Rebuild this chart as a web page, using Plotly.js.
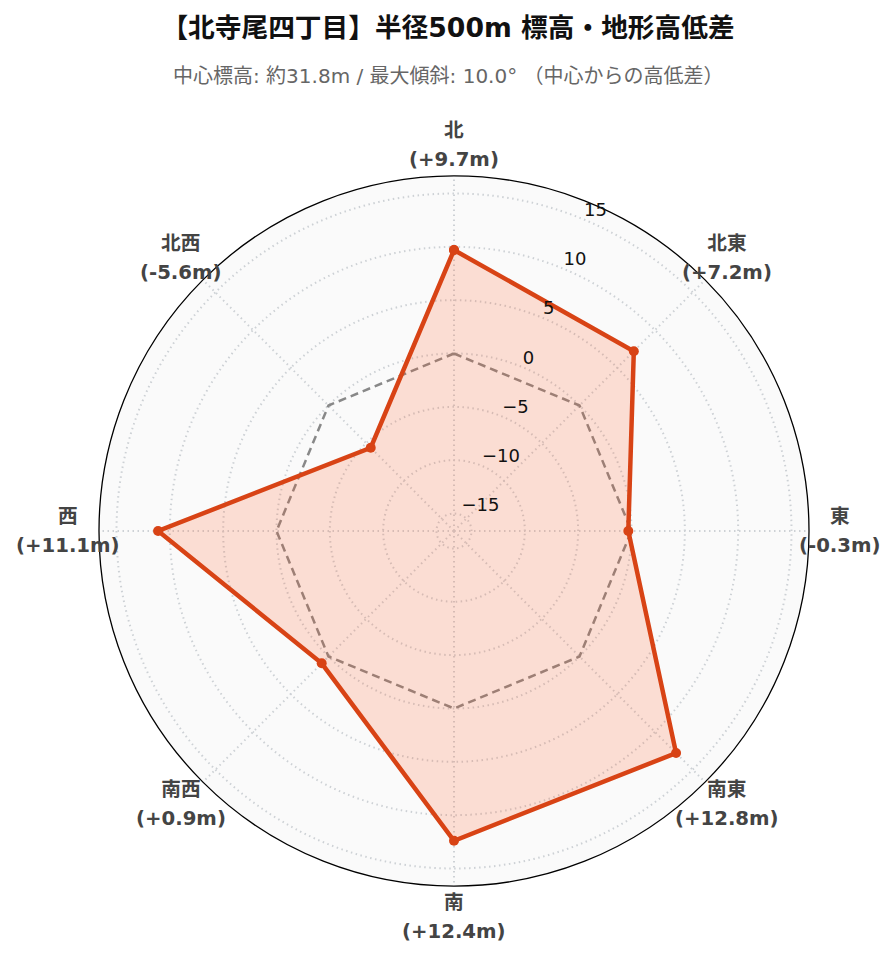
<!DOCTYPE html>
<html><head><meta charset="utf-8">
<script src="https://cdn.plot.ly/plotly-3.0.1.min.js"></script>
<style>html,body{margin:0;padding:0;background:#fff}</style>
</head><body>
<div id="chart" style="width:896px;height:962px"></div>
<script>
const directions = ["北", "北東", "東", "南東", "南", "南西", "西", "北西"];
const elevDiff = [9.7, 7.2, -0.3, 12.8, 12.4, 0.9, 11.1, -5.6];
const baseline = [0, 0, 0, 0, 0, 0, 0, 0];
const radialTicks = [-15, -10, -5, 0, 5, 10, 15];
const radialRange = [-16.64, 16.64];

const fmt = v => (v >= 0 ? "+" : "") + v.toFixed(1) + "m";
const close = a => a.concat([a[0]]);

const FONT = "DejaVu Sans, Noto Sans CJK JP, sans-serif";

// ---- layout geometry ----
const W = 896, H = 962;
const M = {l: 80, r: 80, t: 150, b: 60};
const PW = W - M.l - M.r, PH = H - M.t - M.b;
// main polar frame in pixels (left, top, size)
const frame = {x: 99, y: 176, s: 710};
const dom = (x0, y0, s) => ({
  x: [(x0 - M.l) / PW, (x0 + s - M.l) / PW],
  y: [(H - M.b - (y0 + s)) / PH, (H - M.b - y0) / PH]
});
const mainDomain = dom(frame.x, frame.y, frame.s);
// overlay polar used only for the radial tick labels, nudged up-left
const tickDomain = dom(frame.x - 8, frame.y - 16, frame.s);

// direction labels on a ring just outside the frame
const ringFactor = 1.086;
const cx = (mainDomain.x[0] + mainDomain.x[1]) / 2, cy = (mainDomain.y[0] + mainDomain.y[1]) / 2;
const rx = (mainDomain.x[1] - mainDomain.x[0]) / 2 * ringFactor;
const ry = (mainDomain.y[1] - mainDomain.y[0]) / 2 * ringFactor;
const dirAnnotations = directions.map((d, i) => {
  const a = i * 2 * Math.PI / directions.length;
  return {
    xref: "paper", yref: "paper",
    x: cx + rx * Math.sin(a), y: cy + ry * Math.cos(a),
    xanchor: "center", yanchor: "middle", align: "center",
    showarrow: false,
    text: "<span style='font-size:19.7px'><b>" + d + "</b></span><br><span style='font-size:19.7px'><b>(" + fmt(elevDiff[i]) + ")</b></span>",
    font: {family: FONT, size: 22.3, color: "#444"}
  };
});

const traces = [
  {
    type: "scatterpolar",
    r: close(baseline), theta: close(directions),
    mode: "lines",
    line: {color: "#888888", width: 2.5, dash: "8px,5px"},
    hoverinfo: "skip", showlegend: false
  },
  {
    type: "scatterpolar",
    r: close(elevDiff), theta: close(directions),
    mode: "lines+markers",
    fill: "toself",
    fillcolor: "rgba(255,87,34,0.18)",
    line: {color: "#d84315", width: 4.5},
    marker: {color: "#d84315", size: 10},
    showlegend: false
  },
  {
    type: "scatterpolar", subplot: "polar2",
    r: [], theta: [], mode: "lines",
    hoverinfo: "skip", showlegend: false
  }
];

const layout = {
  width: W, height: H,
  paper_bgcolor: "#ffffff",
  font: {family: FONT, color: "#222"},
  margin: M,
  showlegend: false,
  title: {
    text: "<b>【北寺尾四丁目】半径500m 標高・地形高低差</b>",
    x: 0.5, xanchor: "center", y: 0.971, yanchor: "middle",
    font: {family: FONT, size: 26.7, color: "#111"}
  },
  annotations: [{
    text: "中心標高: 約31.8m / 最大傾斜: 10.0° （中心からの高低差）",
    xref: "paper", yref: "paper", x: (W / 2 - M.l) / PW, y: (H - M.b - 76) / PH,
    xanchor: "center", yanchor: "middle",
    showarrow: false,
    font: {family: FONT, size: 20, color: "#666"}
  }].concat(dirAnnotations),
  polar: {
    bgcolor: "#fafafa",
    domain: mainDomain,
    angularaxis: {
      rotation: 90, direction: "clockwise",
      categoryarray: directions, categoryorder: "array",
      showticklabels: false,
      showline: true, linecolor: "#000", linewidth: 1.3,
      gridcolor: "#cdd1d5", griddash: "1.5px,3.5px", gridwidth: 1.5,
      ticks: ""
    },
    radialaxis: {
      range: radialRange, angle: 67.5,
      tickvals: radialTicks, showticklabels: false,
      showline: false, ticks: "",
      gridcolor: "#cdd1d5", griddash: "1.5px,3.5px", gridwidth: 1.5
    }
  },
  polar2: {
    bgcolor: "rgba(0,0,0,0)",
    domain: tickDomain,
    angularaxis: {
      rotation: 90, direction: "clockwise",
      showticklabels: false, showline: false, showgrid: false, ticks: ""
    },
    radialaxis: {
      range: radialRange, angle: 67.5, tickangle: 67.5, side: "clockwise",
      tickvals: radialTicks,
      tickfont: {size: 18, color: "#111"},
      showline: false, showgrid: false, ticks: ""
    }
  }
};

Plotly.newPlot("chart", traces, layout, {displayModeBar: false});
</script>
</body></html>
